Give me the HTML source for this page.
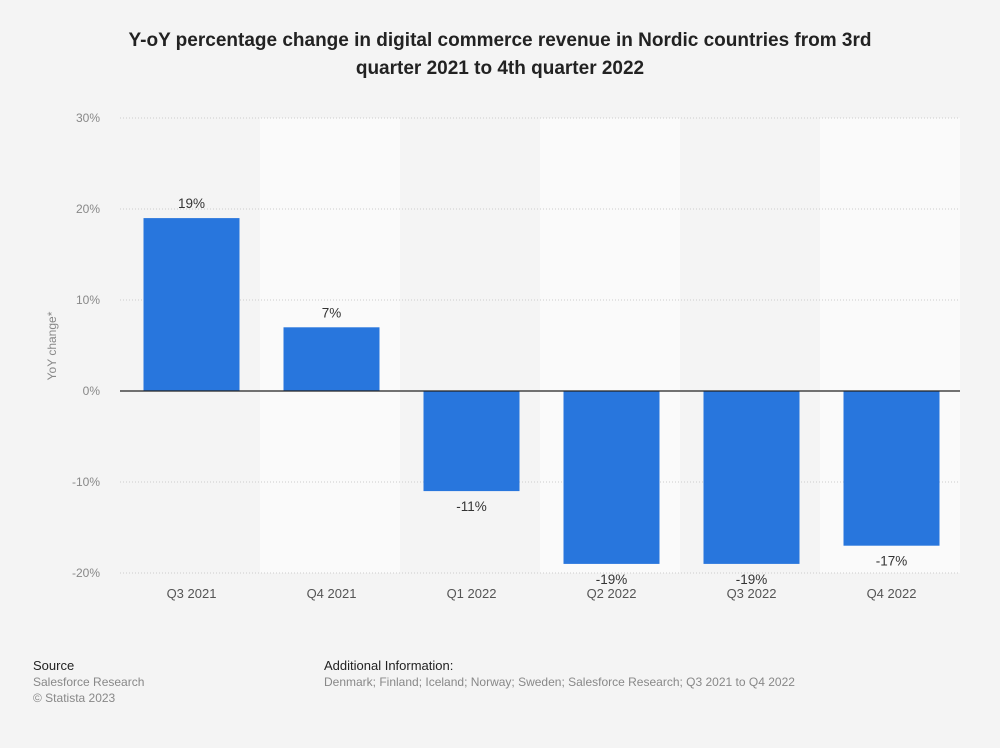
<!DOCTYPE html>
<html><head><meta charset="utf-8"><style>
body{margin:0;background:#f4f4f4;font-family:"Liberation Sans",Arial,sans-serif;}
#wrap{position:relative;width:1000px;height:743px;}
</style></head><body>
<div id="wrap">
<svg width="1000" height="743">
<text x="500" y="46" text-anchor="middle" font-size="19" font-weight="bold" fill="#222">Y-oY percentage change in digital commerce revenue in Nordic countries from 3rd</text>
<text x="500" y="74" text-anchor="middle" font-size="19" font-weight="bold" fill="#222">quarter 2021 to 4th quarter 2022</text>
<g id="plot"></g>
<text transform="translate(56,346) rotate(-90)" text-anchor="middle" font-size="12" fill="#888">YoY change*</text>
<text x="33" y="670" font-size="13" fill="#222">Source</text>
<text x="33" y="686" font-size="12" fill="#888">Salesforce Research</text>
<text x="33" y="702" font-size="12" fill="#888">© Statista 2023</text>
<text x="324" y="670" font-size="13" fill="#222">Additional Information:</text>
<text x="324" y="686" font-size="12" fill="#888">Denmark; Finland; Iceland; Norway; Sweden; Salesforce Research; Q3 2021 to Q4 2022</text>
</svg>
</div>
<script>
const categories=["Q3 2021","Q4 2021","Q1 2022","Q2 2022","Q3 2022","Q4 2022"];
const values=[19,7,-11,-19,-19,-17];
const valueLabels=["19%","7%","-11%","-19%","-19%","-17%"];
const ticks=[30,20,10,0,-10,-20];
const tickLabels=["30%","20%","10%","0%","-10%","-20%"];
const NS="http://www.w3.org/2000/svg";
const g=document.getElementById('plot');
const x0=120,x1=960,band=(x1-x0)/categories.length;
function y(v){return 391-v*9.1;}
function mk(t,a,p){const e=document.createElementNS(NS,t);for(const k in a)e.setAttribute(k,a[k]);(p||g).appendChild(e);return e;}
categories.forEach((c,i)=>{if(i%2==1){const r=mk('rect',{x:x0+i*band,y:y(30),width:band,height:y(-20)-y(30),fill:'#fafafa'});

}});
ticks.forEach((t,i)=>{
 if(t!==0){const l=mk('line',{x1:x0,x2:x1,y1:y(t),y2:y(t),stroke:'#ccc','stroke-dasharray':'1,2'});
 
 }
 const tx=mk('text',{x:100,y:y(t)+4,'text-anchor':'end','font-size':12,fill:'#888'});tx.textContent=tickLabels[i];
 
 
});
categories.forEach((c,i)=>{
 const cx=x0+band*(i+0.5)+1.5,v=values[i];
 const r=mk('rect',{x:cx-48,y:Math.min(y(v),y(0)),width:96,height:Math.abs(y(v)-y(0)),fill:'#2876dd'});
 
 
 const lt=mk('text',{x:cx,y:v>=0?y(v)-10:y(v)+20,'text-anchor':'middle','font-size':13.5,fill:'#333'});lt.textContent=valueLabels[i];
 
 
 const xt=mk('text',{x:cx,y:598,'text-anchor':'middle','font-size':13,fill:'#555'});xt.textContent=c;
 
 
});
const z=mk('line',{x1:x0,x2:x1,y1:y(0),y2:y(0),stroke:'#222','stroke-width':1.3});


</script>
</body></html>
